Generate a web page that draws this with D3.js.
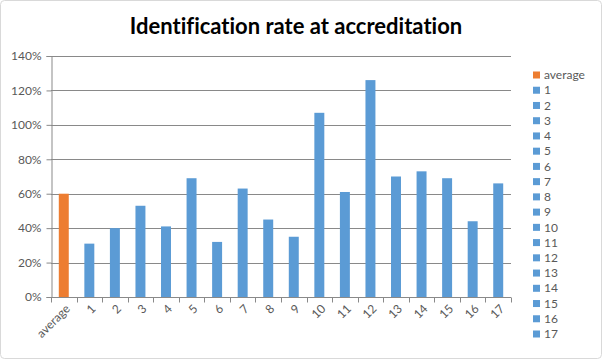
<!DOCTYPE html>
<html><head><meta charset="utf-8">
<script src="https://cdn.jsdelivr.net/npm/d3@7"></script>
<style>body{margin:0;background:#fff;}svg{display:block;font-family:Lato,"Open Sans",sans-serif;font-variant-ligatures:none;}</style>
</head><body>
<svg id="c" width="602" height="359"></svg>
<script>
const categories = ["average","1","2","3","4","5","6","7","8","9","10","11","12","13","14","15","16","17"];
const values = [0.60,0.31,0.40,0.53,0.41,0.69,0.32,0.63,0.45,0.35,1.07,0.61,1.26,0.70,0.73,0.69,0.44,0.66];
const yTicks = [0,0.2,0.4,0.6,0.8,1.0,1.2,1.4];
const colors = {average:"#ED7D31", other:"#5B9BD5"};

const svg = d3.select("#c");
svg.append("rect").attr("x",0.5).attr("y",0.5).attr("width",601).attr("height",358)
  .attr("rx",4).attr("fill","#fff").attr("stroke","#d9d9d9");

const m = {l:51, r:511, t:56, b:297};
const x = d3.scaleBand().domain(categories).range([m.l,m.r]).paddingInner(0.61).paddingOuter(0.305);
const xt = d3.scaleBand().domain(categories).range([m.l,m.r]);
const y = d3.scaleLinear().domain([0,1.4]).range([m.b,m.t]);

// gridlines
svg.append("g").selectAll("line").data(yTicks.slice(1)).join("line")
  .attr("x1",m.l).attr("x2",m.r).attr("y1",d=>Math.round(y(d))+0.5).attr("y2",d=>Math.round(y(d))+0.5)
  .attr("stroke","#898989").attr("stroke-width",1);

// y axis
const ya = svg.append("g").attr("transform",`translate(${m.l+0.5},0)`)
  .call(d3.axisLeft(y).tickValues(yTicks).tickFormat(d3.format(".0%")).tickSize(5).tickPadding(5));
ya.select(".domain").attr("stroke","#898989");
ya.selectAll(".tick line").attr("stroke","#898989");
ya.selectAll(".tick text").attr("fill","#595959").style("font-size","12px").style("font-family","Lato,sans-serif");

// bars
svg.append("g").selectAll("rect").data(categories).join("rect")
  .attr("x",d=>x(d)).attr("width",x.bandwidth())
  .attr("y",(d,i)=>y(values[i])).attr("height",(d,i)=>y(0)-y(values[i]))
  .attr("fill",d=>d==="average"?colors.average:colors.other);

// x axis
const xa = svg.append("g").attr("transform",`translate(0,${m.b+0.5})`);
xa.append("line").attr("x1",m.l).attr("x2",m.r).attr("stroke","#898989");
const edges = categories.map(c=>xt(c)).concat([m.r]);
xa.selectAll("line.tk").data(edges).join("line").attr("class","tk")
  .attr("x1",d=>Math.round(d)+0.5).attr("x2",d=>Math.round(d)+0.5).attr("y1",0).attr("y2",5).attr("stroke","#898989");
xa.selectAll("text").data(categories).join("text")
  .attr("transform",d=>`translate(${xt(d)+xt.bandwidth()/2+4},${9}) rotate(-45)`)
  .attr("text-anchor","end").attr("dy","0.35em")
  .attr("fill","#595959").style("font-size","12px").text(d=>d);

// title
svg.append("text").attr("x",296).attr("y",34).attr("text-anchor","middle")
  .style("font-size","22px").style("font-weight","bold").attr("fill","#000")
  .text("Identification rate at accreditation");

// legend
const lg = svg.append("g");
const ly = d3.scaleLinear().domain([0,17]).range([75,334]);
categories.forEach((c,i)=>{
  lg.append("rect").attr("x",533).attr("y",ly(i)-3.5).attr("width",7).attr("height",7)
    .attr("fill",c==="average"?colors.average:colors.other);
  lg.append("text").attr("x",544).attr("y",ly(i)).attr("dy","0.35em")
    .attr("fill","#595959").style("font-size","12px").text(c);
});
</script>
</body></html>
